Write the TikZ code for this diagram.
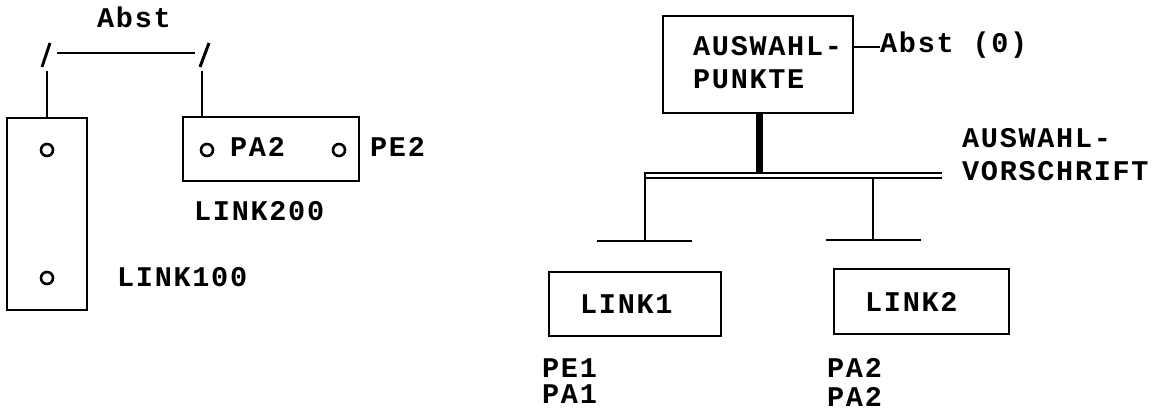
\documentclass[tikz,border=0pt]{standalone}
\usepackage{fontspec}
\setmainfont{Liberation Mono}[LetterSpace=6]
\begin{document}
\begin{tikzpicture}[x=1pt,y=-1pt,
  txt/.style={font=\fontsize{28.5}{32}\selectfont\bfseries, inner sep=0pt, anchor=base west},
  box/.style={draw, line width=1.5pt},
  ln/.style={line width=1.3pt},
  pin/.style={circle, draw, line width=2.6pt, minimum size=12pt, inner sep=0pt},
  slash/.style={line width=3pt}]
\useasboundingbox (0,0) rectangle (1155,414);
% ---- left part ----
\node[txt] (abstL) at (97,28) {Abst};
\coordinate (s1b) at (42,67); \coordinate (s1t) at (50,43);
\coordinate (s2b) at (200,67); \coordinate (s2t) at (209,43);
\draw[slash] (s1b) -- (s1t);
\draw[slash] (s2b) -- (s2t);
\coordinate (h1) at (57,53); \coordinate (h2) at (195,53);
\draw[ln] (h1) -- (h2);
\draw[box] (7,118) rectangle (87,310);
\coordinate (b100top) at (47,118);
\coordinate (v1) at (47,71);
\draw[ln] (v1) -- (b100top);
\draw[box] (183,117) rectangle (359,181);
\coordinate (b200top) at (202,117);
\coordinate (v2) at (202,71);
\draw[ln] (v2) -- (b200top);
\node[pin] (c1) at (47,150) {};
\node[pin] (c2) at (47,278) {};
\node[pin] (c3) at (207,150) {};
\node[pin] (c4) at (339,150) {};
\node[txt] (pa2in) at (230,157) {PA2};
\node[txt] (pe2) at (370,157) {PE2};
\node[txt] (l200) at (194,220) {LINK200};
\node[txt] (l100) at (117,286) {LINK100};
% ---- right part ----
\draw[box] (663,16) rectangle (853,113);
\node[txt] (aw1) at (693,56) {AUSWAHL-};
\node[txt] (aw2) at (693,89) {PUNKTE};
\coordinate (apr) at (853,47); \coordinate (ape) at (880,47);
\draw[ln] (apr) -- (ape);
\node[txt] (abst0) at (880,53) {Abst (0)};
\coordinate (thtop) at (759,113); \coordinate (thbot) at (759,173);
\draw[line width=7pt] (thtop) -- (thbot);
\coordinate (busL) at (644,173); \coordinate (busR) at (942,173);
\coordinate (busL2) at (644,178); \coordinate (busR2) at (942,178);
\draw[ln] (busL) -- (busR);
\draw[ln] (busL2) -- (busR2);
\node[txt] (av1) at (962,148) {AUSWAHL-};
\node[txt] (av2) at (962,180) {VORSCHRIFT};
\coordinate (br1t) at (645,173); \coordinate (br1b) at (645,241);
\draw[ln] (br1t) -- (br1b);
\coordinate (t1l) at (597,241); \coordinate (t1r) at (692,241);
\draw[ln] (t1l) -- (t1r);
\coordinate (br2t) at (873,178); \coordinate (br2b) at (873,240);
\draw[ln] (br2t) -- (br2b);
\coordinate (t2l) at (826,240); \coordinate (t2r) at (921,240);
\draw[ln] (t2l) -- (t2r);
\draw[box] (549,272) rectangle (721,336);
\node[txt] (l1) at (580,313) {LINK1};
\draw[box] (834,269) rectangle (1009,334);
\node[txt] (l2) at (865,311) {LINK2};
\node[txt] (pe1) at (542,377) {PE1};
\node[txt] (pa1) at (542,403) {PA1};
\node[txt] (pa2a) at (827,377) {PA2};
\node[txt] (pa2b) at (827,406) {PA2};
\end{tikzpicture}
\end{document}
